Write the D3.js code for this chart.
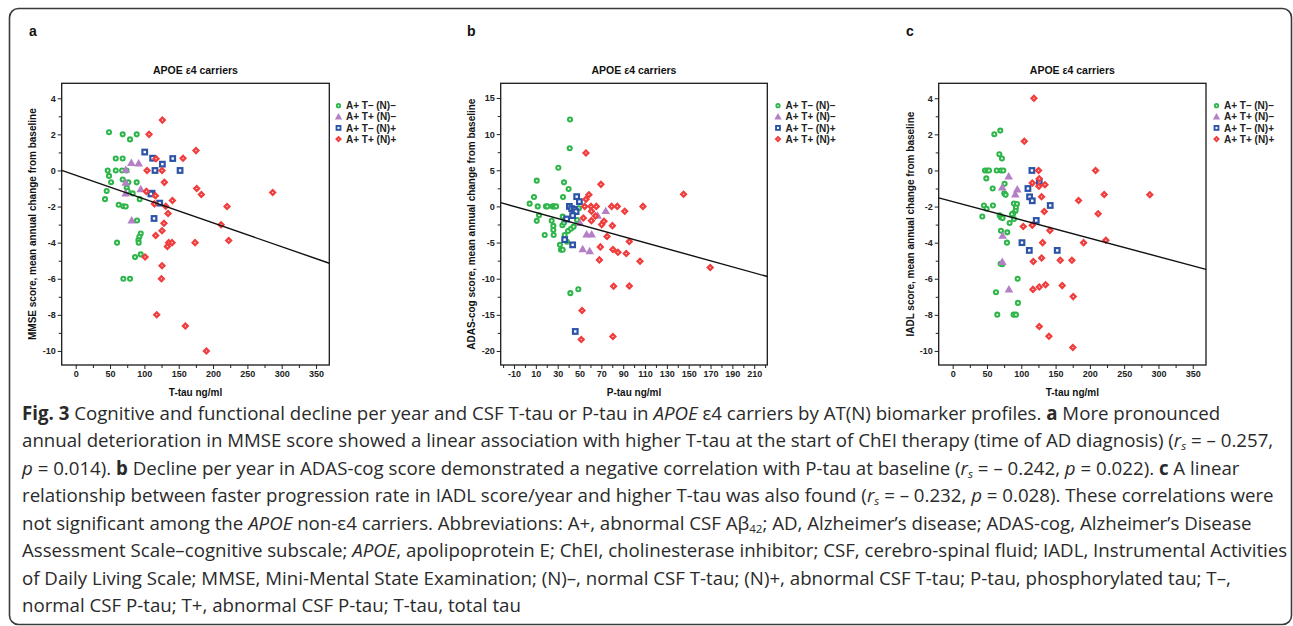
<!DOCTYPE html>
<html><head><meta charset="utf-8">
<script src="https://cdn.jsdelivr.net/npm/d3@7"></script>
<style>body{margin:0;background:#fff}</style>
</head><body>
<svg id="fig" width="1293" height="626"></svg>
<script>
// ---------------- DATA ----------------
const groups = ["A+ T\u2013 (N)\u2013", "A+ T+ (N)\u2013", "A+ T\u2013 (N)+", "A+ T+ (N)+"];
const title = "APOE \u03b54 carriers";
const panelLetters = ["a", "b", "c"];
const xLabels = ["T-tau ng/ml", "P-tau ng/ml", "T-tau ng/ml"];
const yLabels = ["MMSE score, mean annual change from baseline",
                 "ADAS-cog score, mean annual change from baseline",
                 "IADL score, mean annual change from baseline"];

const xTicksTtau = [0, 50, 100, 150, 200, 250, 300, 350];
const xMinorTtau = [25, 75, 125, 175, 225, 275, 325];
const xTicksPtau = [-10, 10, 30, 50, 70, 90, 110, 130, 150, 170, 190, 210];
const xMinorPtau = [-20, 0, 20, 40, 60, 80, 100, 120, 140, 160, 180, 200, 220];
const yTicksSmall = [-10, -8, -6, -4, -2, 0, 2, 4];
const yMinorSmall = [-9, -7, -5, -3, -1, 1, 3];
const yTicksAdas = [-20, -15, -10, -5, 0, 5, 10, 15];
const yMinorAdas = [-17.5, -12.5, -7.5, -2.5, 2.5, 7.5, 12.5];

// axis limits
const xLimTtau = [-20.4, 369.3];
const xLimPtau = [-22.2, 222];
const yLimSmall = [-10.78, 4.83];
const yLimAdas = [-21.94, 17.03];

// panel a: MMSE vs T-tau
const a_g1 = [[48.5,2.12],[68.4,2.0],[88.8,2.0],[79.1,1.72],[58.3,0.66],[68.4,0.66],[46.6,0],[58.3,0],[67.5,0],[74,0],[48.5,-0.3],[51.5,-0.65],[68.4,-0.5],[76.7,-0.66],[88.8,-0.66],[45.1,-1.14],[42.7,-1.59],[74.3,-0.96],[75.7,-1.14],[83,-1.27],[93.2,-1.59],[62.6,-1.9],[69.4,-1.98],[72.8,-2.0],[89.3,-2.77],[94.7,-3.49],[92.7,-3.67],[91.3,-3.86],[91.7,-4.0],[60.2,-4.0],[86.4,-4.8],[94.7,-4.65],[69.4,-6.0],[79.1,-6.0]];
const a_g2 = [[81,0.42],[91.7,0.39],[72.8,0.04],[72.8,-0.68],[72.8,-1.27],[94.7,-1.03],[81.6,-2.77]];
const a_g3 = [[100.5,1.02],[112,0.68],[126.2,0.35],[141.3,0.66],[115.5,0],[152,0],[111.2,-1.26],[109.5,-1.3],[122.3,-1.81],[114.1,-2.66]];
const a_g4 = [[126.2,2.79],[106.8,2.0],[175.2,1.1],[117,0.65],[156.3,0.68],[103.9,0],[125.7,0],[129.1,-0.66],[176.2,-1.0],[183,-1.33],[286.9,-1.22],[102.9,-1.16],[116,-1.4],[140.8,-1.66],[114.6,-1.85],[131.1,-1.98],[220.4,-2.0],[134.5,-2.38],[128.6,-2.92],[211.7,-3.01],[125.7,-3.34],[116.5,-3.6],[222.8,-3.88],[135.4,-4.0],[140.3,-4.0],[173.8,-4.0],[133.5,-4.21],[101,-4.8],[125.7,-5.28],[124.8,-6.0],[118,-8.0],[159.7,-8.62],[190.3,-10.0]];
const a_fit = [[-20.4, 0.0], [369.3, -5.14]];

// panel b: ADAS-cog vs P-tau
const b_g1 = [[41.3,12.03],[41,8.04],[30.6,5.35],[10.8,3.56],[35.8,3.33],[40,2.41],[8.3,1.3],[34.9,1.3],[4.3,0.38],[11.7,0],[19.3,0],[20.5,0],[25.4,0],[26.6,0],[28.5,0],[12.9,-1.24],[10.8,-2.0],[24.5,-1.98],[26,-2.7],[26,-3.26],[26.3,-3.95],[18.1,-3.95],[34.6,-1.41],[34.3,-2.6],[35.8,-2.25],[36.4,-3.95],[39.5,-3.4],[42.2,-3.1],[44.6,-2.8],[47.7,-1.88],[49.5,-0.26],[32.1,-5.32],[33,-6.0],[34.6,-6.0],[38.5,-4.9],[41.6,-12.0],[48.9,-11.46]];
const b_g2 = [[50.4,-2.3],[56.5,-3.87],[61.1,-3.87],[52.9,-5.9],[59.3,-6.2],[66.6,-1.28],[74,-0.64]];
const b_g3 = [[47.4,1.35],[49.9,0.66],[40.7,0],[42.8,-0.31],[45.2,-0.4],[46.8,-0.72],[43.7,-1.27],[38.2,-1.74],[36.4,-4.6],[43.7,-5.32],[46.1,-17.3]];
const b_g4 = [[55.9,7.4],[69.6,3.05],[145.3,1.67],[58.6,1.62],[55.9,0.98],[54.7,0],[60.5,0],[65.4,0],[79.4,0],[84.6,0],[108.1,0],[91.4,-0.68],[60.9,-0.68],[64.6,-1.33],[53.5,-1.6],[60.9,-1.97],[72.4,-2.06],[70.3,-2.52],[80.1,-2.66],[75.2,-4.17],[95.6,-4.86],[69.1,-5.6],[80.6,-5.97],[85.2,-6.34],[92.8,-6.52],[68.2,-7.4],[105.4,-7.6],[169.7,-8.44],[81.2,-11.05],[95.6,-11.0],[52.3,-14.4],[51.6,-18.4],[80.6,-18.0]];
const b_fit = [[-22.2, 0.52], [222, -9.7]];

// panel c: IADL vs T-tau
const c_g1 = [[69.4,2.21],[60.7,2.01],[68,0.9],[71.8,0.66],[47.1,0],[50.5,0],[52.9,0],[64.1,0],[70.4,0],[73.8,0],[49,-0.44],[75.7,-0.74],[58.3,-1.0],[75.2,-1.27],[77.2,-1.35],[45.6,-1.94],[49.5,-2.12],[58.7,-1.94],[43.2,-2.55],[68.4,-2.49],[70.4,-2.6],[72.8,-2.64],[89.3,-1.83],[93.7,-1.86],[92.2,-2.05],[91.7,-2.23],[88.3,-2.38],[86.4,-2.43],[89.3,-2.69],[83,-2.91],[70.4,-3.34],[79.6,-3.43],[79.1,-4.0],[69.9,-5.17],[72.3,-5.2],[94.7,-6.0],[63.1,-6.75],[95.1,-7.34],[65,-7.99],[88.8,-7.99],[92.2,-7.99]];
const c_g2 = [[81.6,-0.33],[94.2,-1.05],[91.3,-1.33],[72.3,-0.94],[72.8,-3.62],[72.3,-5.07],[82,-6.59]];
const c_g3 = [[115.5,0],[126.2,-0.61],[109.7,-1.0],[112.1,-1.46],[116,-1.68],[142.2,-1.94],[121.8,-2.77],[101,-4.0],[111.7,-4.43],[152.4,-4.43]];
const c_g4 = [[118.4,4.0],[104.4,1.62],[125.2,0],[208.3,0],[126.2,-0.46],[116,-0.7],[134.5,-0.79],[125.7,-0.87],[129.6,-1.46],[220.9,-1.33],[287.4,-1.35],[183.5,-1.66],[133.5,-2.27],[212.1,-2.4],[141.7,-3.32],[102.9,-3.1],[116,-3.03],[131.1,-4.0],[190.8,-4.0],[223.3,-3.87],[117.5,-5.04],[129.6,-4.85],[156.8,-4.98],[173.8,-4.98],[117,-6.59],[126.2,-6.46],[135.4,-6.33],[159.7,-6.38],[175.7,-6.99],[126.2,-8.65],[140.3,-9.19],[175.2,-9.81]];
const c_fit = [[-20.4, -1.52], [369.3, -5.48]];

// caption lines: [text, style]  (b = bold, i = italic, s = subscript, n = normal)
const caption = [
  [["Fig. 3","b"],[" Cognitive and functional decline per year and CSF T-tau or P-tau in ","n"],["APOE","i"],[" \u03b54 carriers by AT(N) biomarker profiles. ","n"],["a","b"],[" More pronounced","n"]],
  [["annual deterioration in MMSE score showed a linear association with higher T-tau at the start of ChEI therapy (time of AD diagnosis) (","n"],["r","i"],["s","si"],[" = \u2013 0.257,","n"]],
  [["p","i"],[" = 0.014). ","n"],["b","b"],[" Decline per year in ADAS-cog score demonstrated a negative correlation with P-tau at baseline (","n"],["r","i"],["s","si"],[" = \u2013 0.242, ","n"],["p","i"],[" = 0.022). ","n"],["c","b"],[" A linear","n"]],
  [["relationship between faster progression rate in IADL score/year and higher T-tau was also found (","n"],["r","i"],["s","si"],[" = \u2013 0.232, ","n"],["p","i"],[" = 0.028). These correlations were","n"]],
  [["not significant among the ","n"],["APOE","i"],[" non-\u03b54 carriers. Abbreviations: A+, abnormal CSF A\u03b2","n"],["42","s"],["; AD, Alzheimer\u2019s disease; ADAS-cog, Alzheimer\u2019s Disease","n"]],
  [["Assessment Scale\u2013cognitive subscale; ","n"],["APOE","i"],[", apolipoprotein E; ChEI, cholinesterase inhibitor; CSF, cerebro-spinal fluid; IADL, Instrumental Activities","n"]],
  [["of Daily Living Scale; MMSE, Mini-Mental State Examination; (N)\u2013, normal CSF T-tau; (N)+, abnormal CSF T-tau; P-tau, phosphorylated tau; T\u2013,","n"]],
  [["normal CSF P-tau; T+, abnormal CSF P-tau; T-tau, total tau","n"]]
];

// ---------------- DRAW ----------------
const colors = ["#2fb64b", "#b57fc6", "#2c53a8", "#f03d3d"];
const svg = d3.select("#fig");
const chartFont = "'Liberation Sans', Arial, sans-serif";

svg.append("rect").attr("x", 9.5).attr("y", 8.5).attr("width", 1282).attr("height", 616)
  .attr("rx", 9).attr("fill", "none").attr("stroke", "#3a3a3a").attr("stroke-width", 1.6);

const panels = [
  {left: 61.7, right: 329.3, xLim: xLimTtau, yLim: yLimSmall, xt: xTicksTtau, xm: xMinorTtau, yt: yTicksSmall, ym: yMinorSmall,
   data: [a_g1, a_g2, a_g3, a_g4], fit: a_fit, letterX: 29, yLabX: 36, legX: 338.5},
  {left: 500.7, right: 767.3, xLim: xLimPtau, yLim: yLimAdas, xt: xTicksPtau, xm: xMinorPtau, yt: yTicksAdas, ym: yMinorAdas,
   data: [b_g1, b_g2, b_g3, b_g4], fit: b_fit, letterX: 467, yLabX: 475, legX: 778},
  {left: 938.7, right: 1206, xLim: xLimTtau, yLim: yLimSmall, xt: xTicksTtau, xm: xMinorTtau, yt: yTicksSmall, ym: yMinorSmall,
   data: [c_g1, c_g2, c_g3, c_g4], fit: c_fit, letterX: 906, yLabX: 914, legX: 1216.5}
];
const plotTop = 83.3, plotBottom = 365;

function marker(g, k, x, y, sc = 1) {
  if (k === 0) {
    g.append("circle").attr("cx", x).attr("cy", y).attr("r", 2.0 * sc)
      .attr("fill", "#fff").attr("stroke", colors[0]).attr("stroke-width", 2.1 * sc);
  } else if (k === 1) {
    g.append("path").attr("d", d3.symbol().type(d3.symbolTriangle).size(32 * sc * sc)())
      .attr("transform", `translate(${x},${y + 0.6})`).attr("fill", colors[1]);
  } else if (k === 2) {
    const h = 2.3 * sc;
    g.append("rect").attr("x", x - h).attr("y", y - h).attr("width", 2 * h).attr("height", 2 * h)
      .attr("fill", "#fff").attr("stroke", colors[2]).attr("stroke-width", 2.2 * sc);
  } else {
    const h = 1.7 * sc;
    g.append("rect").attr("x", -h).attr("y", -h).attr("width", 2 * h).attr("height", 2 * h)
      .attr("transform", `translate(${x},${y}) rotate(45)`)
      .attr("fill", "#fff").attr("stroke", colors[3]).attr("stroke-width", 2.3 * sc);
  }
}

panels.forEach((p, i) => {
  const g = svg.append("g");
  const x = d3.scaleLinear().domain(p.xLim).range([p.left, p.right]);
  const y = d3.scaleLinear().domain(p.yLim).range([plotBottom, plotTop]);

  g.append("text").attr("x", p.letterX).attr("y", 36).text(panelLetters[i])
    .attr("font-family", chartFont).attr("font-weight", "bold").attr("font-size", 14).attr("fill", "#111");
  g.append("text").attr("x", (p.left + p.right) / 2).attr("y", 74).attr("text-anchor", "middle")
    .text(title).attr("font-family", chartFont).attr("font-weight", "bold").attr("font-size", 10.5).attr("fill", "#111");

  const xAxis = d3.axisBottom(x).tickValues(p.xt).tickSize(4).tickPadding(2).tickFormat(d3.format("d"));
  const xg = g.append("g").attr("transform", `translate(0,${plotBottom})`).call(xAxis);
  const xMinor = d3.axisBottom(x).tickValues(p.xm).tickSize(3).tickFormat("");
  const xmg = g.append("g").attr("transform", `translate(0,${plotBottom})`).call(xMinor);
  const yAxis = d3.axisLeft(y).tickValues(p.yt).tickSize(4).tickPadding(2).tickFormat(d3.format("d"));
  const yg = g.append("g").attr("transform", `translate(${p.left},0)`).call(yAxis);
  const yMinor = d3.axisLeft(y).tickValues(p.ym).tickSize(3).tickFormat("");
  const ymg = g.append("g").attr("transform", `translate(${p.left},0)`).call(yMinor);
  [xg, xmg, yg, ymg].forEach(a => {
    a.select(".domain").remove();
    a.selectAll("line").attr("stroke", "#222").attr("stroke-width", 1);
    a.selectAll("text").attr("font-family", chartFont).attr("font-weight", "bold")
      .attr("font-size", 9).attr("fill", "#222");
  });
  xg.selectAll("text").text(d => String(d));
  yg.selectAll("text").text(d => String(d));

  g.append("rect").attr("x", p.left).attr("y", plotTop).attr("width", p.right - p.left).attr("height", plotBottom - plotTop)
    .attr("fill", "none").attr("stroke", "#1a1a1a").attr("stroke-width", 1.3);

  g.append("text").attr("x", (p.left + p.right) / 2).attr("y", 396).attr("text-anchor", "middle")
    .text(xLabels[i]).attr("font-family", chartFont).attr("font-weight", "bold").attr("font-size", 10).attr("fill", "#111");
  g.append("text").attr("transform", `translate(${p.yLabX},${(plotTop + plotBottom) / 2}) rotate(-90)`)
    .attr("text-anchor", "middle").text(yLabels[i])
    .attr("font-family", chartFont).attr("font-weight", "bold").attr("font-size", 10).attr("fill", "#111");

  const pg = g.append("g");
  p.data.forEach((arr, k) => arr.forEach(d => marker(pg, k, x(d[0]), y(d[1]))));

  g.append("line").attr("x1", x(p.fit[0][0])).attr("y1", y(p.fit[0][1]))
    .attr("x2", x(p.fit[1][0])).attr("y2", y(p.fit[1][1]))
    .attr("stroke", "#111").attr("stroke-width", 1.4);

  const legY = [105.7, 116.7, 127.9, 139.1];
  groups.forEach((name, k) => {
    marker(g, k, p.legX, legY[k], 0.85);
    g.append("text").attr("x", p.legX + 7.5).attr("y", legY[k] + 3.6).text(name)
      .attr("font-family", chartFont).attr("font-weight", "bold").attr("font-size", 10).attr("fill", "#222");
  });
});

const capG = svg.append("g");
const capFont = "'Open Sans', 'Noto Sans', sans-serif";
const texts = caption.map((line, li) => {
  const t = capG.append("text").attr("x", 22).attr("y", 420 + li * 27.45)
    .attr("font-family", capFont).attr("font-size", 17).attr("fill", "#2a2a2a");
  line.forEach(([s, st]) => {
    const ts = t.append("tspan").text(s);
    if (st === "b") ts.attr("font-weight", "bold");
    if (st === "i") ts.attr("font-style", "italic");
    if (st === "s" || st === "si") {
      ts.attr("font-size", "0.62em").attr("baseline-shift", "-0.25em");
      if (st === "si") ts.attr("font-style", "italic");
    }
  });
  return t;
});
const w = texts[1].node().getComputedTextLength();
const fs = 17 * (1274 - 22) / w;
texts.forEach(t => t.attr("font-size", fs));
</script>
</body></html>
